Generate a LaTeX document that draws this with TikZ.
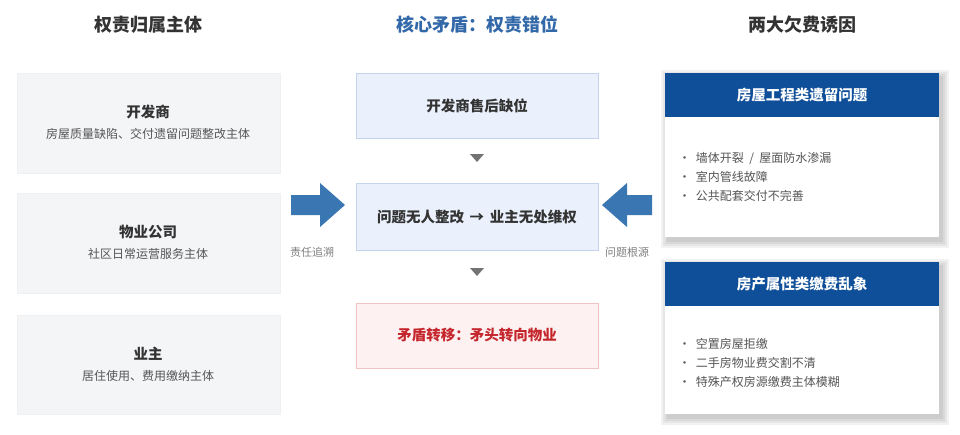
\documentclass[tikz,border=0pt]{standalone}
\usepackage{fontspec}
\setmainfont{Noto Sans CJK SC}
\definecolor{hd}{HTML}{333333}
\definecolor{bl}{HTML}{0F4F9A}
\definecolor{ar}{HTML}{3A76B2}
\definecolor{lb}{HTML}{EAF1FC}
\definecolor{lbb}{HTML}{C3D4EC}
\definecolor{pk}{HTML}{FDF1F1}
\definecolor{pkb}{HTML}{F1C4C4}
\definecolor{rd}{HTML}{C4262C}
\definecolor{gy}{HTML}{F4F5F7}
\definecolor{tx}{HTML}{555555}
\begin{document}
\begin{tikzpicture}[x=1pt,y=-1pt,
 head/.style={font=\bfseries\fontsize{18}{20}\selectfont,text=hd},
 lbox/.style={fill=gy,draw=black!6},
 ttl/.style={font=\bfseries\fontsize{14.5}{17}\selectfont,text=hd},
 sub/.style={font=\fontsize{12}{14}\selectfont,text=tx},
 mbox/.style={fill=lb,draw=lbb},
 chead/.style={fill=bl},
 ctt/.style={font=\bfseries\fontsize{14.5}{17}\selectfont,text=white},
 lst/.style={font=\fontsize{12}{19}\selectfont,text=tx,align=left,anchor=west},
 tri/.style={fill=black!55},
 bar/.style={fill=ar},
 alab/.style={font=\fontsize{11}{13}\selectfont,text=black!50}]
\useasboundingbox (0,0) rectangle (960,434);
\fill[white] (0,0) rectangle (960,434);
\node[head] (h1) at (148,25) {权责归属主体};
\node[head,text=bl!85!white] (h2) at (477,25) {核心矛盾：权责错位};
\node[head] (h3) at (802,25) {两大欠费诱因};
% left
\foreach \n/\ya/\yb/\t/\s in {a/73/173/开发商/房屋质量缺陷、交付遗留问题整改主体, b/193/293/物业公司/社区日常运营服务主体, c/315/414/业主/居住使用、费用缴纳主体}{
 \draw[lbox] (17,\ya) rectangle (280,\yb);
 \node[ttl] (t\n) at (148,{(\ya+\yb)/2-11}) {\t};
 \node[sub] (s\n) at (148,{(\ya+\yb)/2+11}) {\s};
}
% middle
\draw[mbox] (356,73) rectangle (598,138);
\node[ttl] (m1) at (477,105.5) {开发商售后缺位};
\draw[mbox] (356,183) rectangle (598,250);
\node[ttl] (m2) at (477,216.5) {问题无人整改 \,→\, 业主无处维权};
\draw[fill=pk,draw=pkb] (356,303) rectangle (598,368);
\node[ttl,text=rd] (m3) at (477,335.5) {矛盾转移：矛头转向物业};
\fill[tri] (470,154) -- (484,154) -- (477,162) -- cycle;
\fill[tri] (470,268) -- (484,268) -- (477,276) -- cycle;
% arrows
\fill[bar] (291,195) -- (320,195) -- (320,183) -- (345,205) -- (320,227) -- (320,215) -- (291,215) -- cycle;
\fill[bar] (652,195) -- (627,195) -- (627,183) -- (602,205) -- (627,227) -- (627,215) -- (652,215) -- cycle;
\node[alab] (l1) at (312,252) {责任追溯};
\node[alab] (l2) at (627,252) {问题根源};
% right cards with soft shadows
\foreach \ya/\yb in {73/237,262/414}{
 \foreach \d in {9,7,5,3}{
  \fill[black,opacity=0.05] ({665+3-\d+2},{\ya+4-\d+2}) rectangle ({939+3+\d-2},{\yb+4+\d-2});
 }
 \fill[white] (665,\ya) rectangle (939,\yb);
}
\fill[chead] (665,73) rectangle (939,117);
\node[ctt] (r1) at (802,95) {房屋工程类遗留问题};
\node[lst] (r1l) at (675,177) {• \ 墙体开裂 ~/~ 屋面防水渗漏\\• \ 室内管线故障\\• \ 公共配套交付不完善};
\fill[chead] (665,262) rectangle (939,306);
\node[ctt] (r2) at (802,284) {房产属性类缴费乱象};
\node[lst] (r2l) at (675,363) {• \ 空置房屋拒缴\\• \ 二手房物业费交割不清\\• \ 特殊产权房源缴费主体模糊};
\end{tikzpicture}
\end{document}
